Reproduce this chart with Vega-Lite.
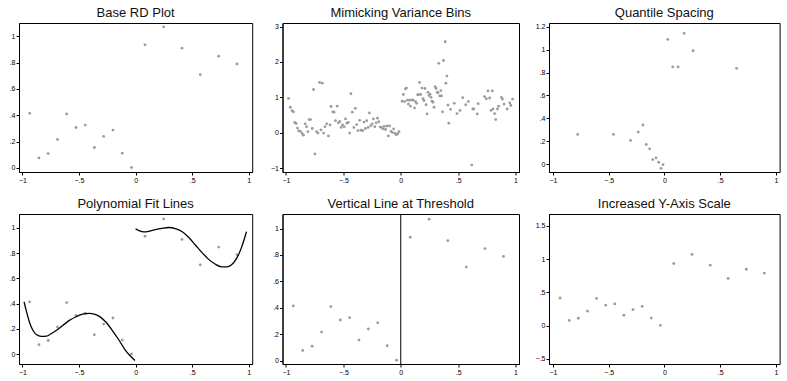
{
  "$schema": "https://vega.github.io/schema/vega-lite/v6.json",
  "padding": {"left": 8, "top": 6, "right": 5, "bottom": 5},
  "background": "white",
  "bounds": "flush",
  "columns": 3,
  "spacing": {"row": 42, "column": 29.5},
  "config": {
    "view": {"stroke": "black", "strokeWidth": 1},
    "title": {"font": "Liberation Sans", "fontSize": 13, "fontWeight": "normal", "color": "#111111", "offset": 3, "anchor": "middle"},
    "axis": {"grid": false, "domainColor": "black", "domainWidth": 1, "tickColor": "black", "tickSize": 3, "tickWidth": 1, "labelFont": "Liberation Sans", "labelFontSize": 7, "labelColor": "black", "labelPadding": 1, "labelOverlap": false, "labelFlush": false, "title": null, "labelExpr": "replace(format(datum.value, '.2~f'), '0.', '.')"},
    "point": {"filled": true, "size": 8, "color": "#9c9c9c", "opacity": 1}
  },
  "datasets": {
    "main": [
      {"x": -0.936, "y": 0.414}, {"x": -0.854, "y": 0.076}, {"x": -0.772, "y": 0.109}, {"x": -0.69, "y": 0.216},
      {"x": -0.609, "y": 0.409}, {"x": -0.527, "y": 0.307}, {"x": -0.445, "y": 0.325}, {"x": -0.364, "y": 0.155},
      {"x": -0.282, "y": 0.239}, {"x": -0.2, "y": 0.287}, {"x": -0.118, "y": 0.112}, {"x": -0.036, "y": 0.003},
      {"x": 0.083, "y": 0.934}, {"x": 0.247, "y": 1.071}, {"x": 0.41, "y": 0.909}, {"x": 0.571, "y": 0.708},
      {"x": 0.734, "y": 0.848}, {"x": 0.895, "y": 0.789}
    ],
    "bins": [
      {"x": -0.977, "y": 0.97}, {"x": -0.962, "y": 0.72}, {"x": -0.947, "y": 0.62}, {"x": -0.935, "y": 0.59},
      {"x": -0.924, "y": 0.29}, {"x": -0.912, "y": 0.26}, {"x": -0.9, "y": 0.13}, {"x": -0.889, "y": 0.05},
      {"x": -0.874, "y": 0.04}, {"x": -0.859, "y": -0.02}, {"x": -0.848, "y": -0.07}, {"x": -0.833, "y": 0.25},
      {"x": -0.821, "y": 0.17}, {"x": -0.809, "y": 0.03}, {"x": -0.798, "y": 0.37}, {"x": -0.786, "y": 0.37},
      {"x": -0.771, "y": 0.12}, {"x": -0.76, "y": 1.22}, {"x": -0.748, "y": -0.6}, {"x": -0.733, "y": 0.03},
      {"x": -0.721, "y": -0.01}, {"x": -0.707, "y": 1.42}, {"x": -0.695, "y": 0.08}, {"x": -0.683, "y": 1.4},
      {"x": -0.672, "y": -0.01}, {"x": -0.66, "y": 0.17}, {"x": -0.645, "y": 0.25}, {"x": -0.63, "y": -0.09},
      {"x": -0.616, "y": 0.22}, {"x": -0.607, "y": 0.74}, {"x": -0.592, "y": 0.59}, {"x": -0.581, "y": 0.58},
      {"x": -0.569, "y": 0.34}, {"x": -0.554, "y": 0.75}, {"x": -0.543, "y": 0.28}, {"x": -0.531, "y": 0.32},
      {"x": -0.519, "y": 0.15}, {"x": -0.507, "y": 0.22}, {"x": -0.493, "y": 0.17}, {"x": -0.481, "y": 0.39},
      {"x": -0.469, "y": 0.27}, {"x": -0.457, "y": 0.29}, {"x": -0.446, "y": -0.01}, {"x": -0.434, "y": 1.1},
      {"x": -0.422, "y": 0.58}, {"x": -0.408, "y": 0.15}, {"x": -0.396, "y": 0.69}, {"x": -0.384, "y": 0.23},
      {"x": -0.372, "y": 0.06}, {"x": -0.358, "y": 0.35}, {"x": -0.346, "y": 0.07}, {"x": -0.331, "y": 0.06},
      {"x": -0.32, "y": 0.3}, {"x": -0.308, "y": 0.12}, {"x": -0.296, "y": 0.34}, {"x": -0.284, "y": 0.15},
      {"x": -0.273, "y": 0.56}, {"x": -0.261, "y": 0.2}, {"x": -0.249, "y": 0.25}, {"x": -0.238, "y": 0.39},
      {"x": -0.226, "y": 0.17}, {"x": -0.214, "y": 0.28}, {"x": -0.202, "y": 0.41}, {"x": -0.191, "y": 0.31},
      {"x": -0.179, "y": 0.16}, {"x": -0.167, "y": 0.15}, {"x": -0.155, "y": 0.11}, {"x": -0.144, "y": 0.18},
      {"x": -0.132, "y": 0.09}, {"x": -0.12, "y": 0.19}, {"x": -0.108, "y": -0.09}, {"x": -0.097, "y": 0.19},
      {"x": -0.085, "y": 0.04}, {"x": -0.073, "y": 0.01}, {"x": -0.062, "y": 0.11}, {"x": -0.05, "y": -0.02},
      {"x": -0.038, "y": -0.06}, {"x": -0.026, "y": -0.03}, {"x": -0.015, "y": 0.03},
      {"x": 0.012, "y": 0.89}, {"x": 0.023, "y": 1.08}, {"x": 0.035, "y": 0.88}, {"x": 0.041, "y": 1.24},
      {"x": 0.05, "y": 1.26}, {"x": 0.059, "y": 0.92}, {"x": 0.067, "y": 0.81}, {"x": 0.076, "y": 0.92},
      {"x": 0.085, "y": 0.75}, {"x": 0.097, "y": 0.93}, {"x": 0.109, "y": 0.92}, {"x": 0.12, "y": 0.7},
      {"x": 0.129, "y": 0.88}, {"x": 0.138, "y": 0.83}, {"x": 0.147, "y": 1.07}, {"x": 0.155, "y": 1.08},
      {"x": 0.164, "y": 1.42}, {"x": 0.173, "y": 1.08}, {"x": 0.185, "y": 1.26}, {"x": 0.194, "y": 0.96},
      {"x": 0.202, "y": 0.91}, {"x": 0.211, "y": 1.25}, {"x": 0.22, "y": 0.79}, {"x": 0.229, "y": 0.53},
      {"x": 0.237, "y": 1.14}, {"x": 0.246, "y": 1.05}, {"x": 0.255, "y": 1.09}, {"x": 0.264, "y": 1.0},
      {"x": 0.273, "y": 0.89}, {"x": 0.281, "y": 0.86}, {"x": 0.29, "y": 0.72}, {"x": 0.299, "y": 1.3},
      {"x": 0.308, "y": 1.25}, {"x": 0.317, "y": 1.14}, {"x": 0.325, "y": 1.13}, {"x": 0.331, "y": 1.96},
      {"x": 0.34, "y": 1.04}, {"x": 0.349, "y": 1.19}, {"x": 0.355, "y": 1.04}, {"x": 0.364, "y": 0.59},
      {"x": 0.372, "y": 2.04}, {"x": 0.387, "y": 2.57}, {"x": 0.393, "y": 1.4}, {"x": 0.402, "y": 1.6},
      {"x": 0.411, "y": 0.78}, {"x": 0.419, "y": 0.27}, {"x": 0.434, "y": 0.66}, {"x": 0.466, "y": 0.83},
      {"x": 0.49, "y": 0.54}, {"x": 0.516, "y": 0.63}, {"x": 0.54, "y": 0.99}, {"x": 0.566, "y": 0.79},
      {"x": 0.589, "y": 0.88}, {"x": 0.619, "y": -0.91}, {"x": 0.628, "y": 0.67}, {"x": 0.636, "y": 0.67},
      {"x": 0.666, "y": 0.53}, {"x": 0.674, "y": 0.82}, {"x": 0.73, "y": 1.02}, {"x": 0.745, "y": 0.96},
      {"x": 0.76, "y": 1.18}, {"x": 0.774, "y": 0.98}, {"x": 0.786, "y": 0.63}, {"x": 0.798, "y": 1.18},
      {"x": 0.804, "y": 0.67}, {"x": 0.818, "y": 0.54}, {"x": 0.827, "y": 0.37}, {"x": 0.842, "y": 0.67},
      {"x": 0.853, "y": 0.75}, {"x": 0.877, "y": 1.0}, {"x": 0.886, "y": 0.95}, {"x": 0.9, "y": 0.81},
      {"x": 0.927, "y": 0.67}, {"x": 0.95, "y": 0.84}, {"x": 0.959, "y": 0.77}, {"x": 0.974, "y": 0.95}
    ],
    "quantile": [
      {"x": -0.778, "y": 0.261}, {"x": -0.457, "y": 0.261}, {"x": -0.304, "y": 0.208}, {"x": -0.235, "y": 0.281},
      {"x": -0.193, "y": 0.343}, {"x": -0.163, "y": 0.173}, {"x": -0.133, "y": 0.135}, {"x": -0.106, "y": 0.041},
      {"x": -0.076, "y": 0.056}, {"x": -0.052, "y": 0.018}, {"x": -0.031, "y": -0.035}, {"x": -0.013, "y": -0.003},
      {"x": 0.029, "y": 1.089}, {"x": 0.074, "y": 0.849}, {"x": 0.122, "y": 0.849}, {"x": 0.176, "y": 1.142},
      {"x": 0.257, "y": 0.99}, {"x": 0.647, "y": 0.837}
    ],
    "fit": [
      {"side": "left", "x": -0.985, "y": 0.414}, {"side": "left", "x": -0.965, "y": 0.342}, {"side": "left", "x": -0.936, "y": 0.249},
      {"side": "left", "x": -0.906, "y": 0.188}, {"side": "left", "x": -0.877, "y": 0.156}, {"side": "left", "x": -0.833, "y": 0.141},
      {"side": "left", "x": -0.789, "y": 0.143}, {"side": "left", "x": -0.746, "y": 0.162}, {"side": "left", "x": -0.702, "y": 0.188},
      {"side": "left", "x": -0.643, "y": 0.228}, {"side": "left", "x": -0.585, "y": 0.268}, {"side": "left", "x": -0.526, "y": 0.297},
      {"side": "left", "x": -0.468, "y": 0.318}, {"side": "left", "x": -0.409, "y": 0.324}, {"side": "left", "x": -0.365, "y": 0.318},
      {"side": "left", "x": -0.32, "y": 0.3}, {"side": "left", "x": -0.263, "y": 0.255}, {"side": "left", "x": -0.205, "y": 0.188},
      {"side": "left", "x": -0.146, "y": 0.111}, {"side": "left", "x": -0.088, "y": 0.029}, {"side": "left", "x": -0.044, "y": -0.016},
      {"side": "left", "x": -0.006, "y": -0.05},
      {"side": "right", "x": 0.0, "y": 0.992}, {"side": "right", "x": 0.029, "y": 0.979}, {"side": "right", "x": 0.073, "y": 0.968},
      {"side": "right", "x": 0.117, "y": 0.973}, {"side": "right", "x": 0.175, "y": 0.987}, {"side": "right", "x": 0.234, "y": 0.997},
      {"side": "right", "x": 0.292, "y": 1.003}, {"side": "right", "x": 0.351, "y": 0.995}, {"side": "right", "x": 0.409, "y": 0.971},
      {"side": "right", "x": 0.468, "y": 0.926}, {"side": "right", "x": 0.526, "y": 0.867}, {"side": "right", "x": 0.585, "y": 0.806},
      {"side": "right", "x": 0.643, "y": 0.753}, {"side": "right", "x": 0.702, "y": 0.714}, {"side": "right", "x": 0.76, "y": 0.692},
      {"side": "right", "x": 0.804, "y": 0.692}, {"side": "right", "x": 0.848, "y": 0.708}, {"side": "right", "x": 0.892, "y": 0.759},
      {"side": "right", "x": 0.936, "y": 0.846}, {"side": "right", "x": 0.965, "y": 0.926}, {"side": "right", "x": 0.98, "y": 0.971}
    ],
    "threshold": [{"x": 0}]
  },
  "concat": [
    {
      "title": "Base RD Plot",
      "width": 233.2, "height": 149,
      "data": {"name": "main"},
      "mark": "point",
      "encoding": {
        "x": {"field": "x", "type": "quantitative", "scale": {"domain": [-1.03, 1.03], "nice": false, "zero": false}, "axis": {"values": [-1, -0.5, 0, 0.5, 1]}},
        "y": {"field": "y", "type": "quantitative", "scale": {"domain": [-0.031, 1.1], "nice": false, "zero": false}, "axis": {"values": [0, 0.2, 0.4, 0.6, 0.8, 1]}}
      }
    },
    {
      "title": "Mimicking Variance Bins",
      "width": 236.5, "height": 149,
      "data": {"name": "bins"},
      "mark": "point",
      "encoding": {
        "x": {"field": "x", "type": "quantitative", "scale": {"domain": [-1.03, 1.03], "nice": false, "zero": false}, "axis": {"values": [-1, -0.5, 0, 0.5, 1]}},
        "y": {"field": "y", "type": "quantitative", "scale": {"domain": [-1.11, 3.1], "nice": false, "zero": false}, "axis": {"values": [-1, 0, 1, 2, 3]}}
      }
    },
    {
      "title": "Quantile Spacing",
      "width": 230.6, "height": 149,
      "data": {"name": "quantile"},
      "mark": "point",
      "encoding": {
        "x": {"field": "x", "type": "quantitative", "scale": {"domain": [-1.035, 1.032], "nice": false, "zero": false}, "axis": {"values": [-1, -0.5, 0, 0.5, 1]}},
        "y": {"field": "y", "type": "quantitative", "scale": {"domain": [-0.067, 1.232], "nice": false, "zero": false}, "axis": {"values": [0, 0.2, 0.4, 0.6, 0.8, 1, 1.2]}}
      }
    },
    {
      "title": "Polynomial Fit Lines",
      "width": 233.2, "height": 150,
      "layer": [
        {
          "data": {"name": "main"},
          "mark": "point",
          "encoding": {
            "x": {"field": "x", "type": "quantitative", "scale": {"domain": [-1.03, 1.03], "nice": false, "zero": false}, "axis": {"values": [-1, -0.5, 0, 0.5, 1]}},
            "y": {"field": "y", "type": "quantitative", "scale": {"domain": [-0.077, 1.11], "nice": false, "zero": false}, "axis": {"values": [0, 0.2, 0.4, 0.6, 0.8, 1], "labelOverlap": false}}
          }
        },
        {
          "data": {"name": "fit"},
          "mark": {"type": "line", "color": "black", "strokeWidth": 1.3, "interpolate": "monotone"},
          "encoding": {
            "x": {"field": "x", "type": "quantitative", "axis": {"values": [-1, -0.5, 0, 0.5, 1]}},
            "y": {"field": "y", "type": "quantitative", "axis": {"values": [0, 0.2, 0.4, 0.6, 0.8, 1], "labelOverlap": false}},
            "detail": {"field": "side", "type": "nominal"}
          }
        }
      ]
    },
    {
      "title": "Vertical Line at Threshold",
      "width": 236.5, "height": 150,
      "layer": [
        {
          "data": {"name": "main"},
          "mark": "point",
          "encoding": {
            "x": {"field": "x", "type": "quantitative", "scale": {"domain": [-1.03, 1.03], "nice": false, "zero": false}, "axis": {"values": [-1, -0.5, 0, 0.5, 1]}},
            "y": {"field": "y", "type": "quantitative", "scale": {"domain": [-0.026, 1.11], "nice": false, "zero": false}, "axis": {"values": [0, 0.2, 0.4, 0.6, 0.8, 1]}}
          }
        },
        {
          "data": {"name": "threshold"},
          "mark": {"type": "rule", "color": "black", "strokeWidth": 1},
          "encoding": {"x": {"field": "x", "type": "quantitative"}}
        }
      ]
    },
    {
      "title": "Increased Y-Axis Scale",
      "width": 230.6, "height": 150,
      "data": {"name": "main"},
      "mark": "point",
      "encoding": {
        "x": {"field": "x", "type": "quantitative", "scale": {"domain": [-1.035, 1.032], "nice": false, "zero": false}, "axis": {"values": [-1, -0.5, 0, 0.5, 1]}},
        "y": {"field": "y", "type": "quantitative", "scale": {"domain": [-0.58, 1.68], "nice": false, "zero": false}, "axis": {"values": [-0.5, 0, 0.5, 1, 1.5]}}
      }
    }
  ]
}
